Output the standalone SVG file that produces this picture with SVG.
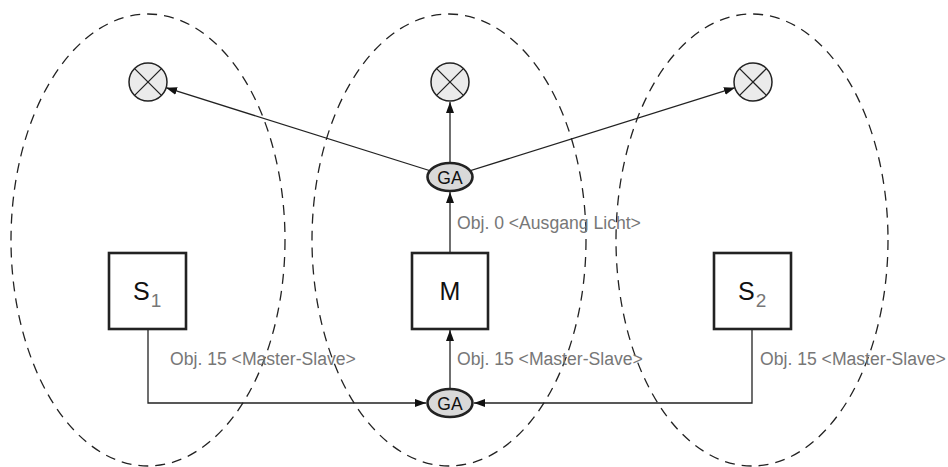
<svg xmlns="http://www.w3.org/2000/svg" width="948" height="467" viewBox="0 0 948 467">
<style>
.zone{fill:none;stroke:#222;stroke-width:1.3;stroke-dasharray:10 7}
.conn{fill:none;stroke:#222;stroke-width:1.3}
.box{fill:#fff;stroke:#222;stroke-width:2.6}
.lamp{fill:#ebebeb;stroke:#222;stroke-width:1.5}
.ga{fill:#d9d9d9;stroke:#222;stroke-width:2.6}
.lbl{font-family:"Liberation Sans",Arial,sans-serif;font-size:17.6px;fill:#777}
.big{font-family:"Liberation Sans",Arial,sans-serif;font-size:25px;fill:#111}
.sub{font-family:"Liberation Sans",Arial,sans-serif;font-size:19px;fill:#777}
.gat{font-family:"Liberation Sans",Arial,sans-serif;font-size:17.5px;fill:#111;text-anchor:middle}
</style>
<defs>
<marker id="arr" markerUnits="userSpaceOnUse" markerWidth="11" markerHeight="8" refX="11" refY="4" orient="auto">
<path d="M0,0 L11,4 L0,8 z" fill="#111"/>
</marker>
</defs>
<g id="zones">
<ellipse class="zone" cx="148" cy="240" rx="137" ry="226"/>
<ellipse class="zone" cx="449" cy="240" rx="137" ry="226"/>
<ellipse class="zone" cx="752" cy="240" rx="136" ry="226"/>
</g>
<g id="connectors">
<path class="conn" d="M450,177 L166,87.7" marker-end="url(#arr)"/>
<path class="conn" d="M450,177 L735,87.7" marker-end="url(#arr)"/>
<path class="conn" d="M450,163 V102" marker-end="url(#arr)"/>
<path class="conn" d="M450,253 V192" marker-end="url(#arr)"/>
<path class="conn" d="M450,389 V330" marker-end="url(#arr)"/>
<path class="conn" d="M148,329 V403 H426" marker-end="url(#arr)"/>
<path class="conn" d="M752,329 V403 H474" marker-end="url(#arr)"/>
</g>
<g id="lamp-left">
<circle class="lamp" cx="148" cy="82" r="19"/>
<path class="conn" d="M134.6,68.6 L161.4,95.4 M161.4,68.6 L134.6,95.4"/>
</g>
<g id="lamp-center">
<circle class="lamp" cx="450" cy="82" r="19"/>
<path class="conn" d="M436.6,68.6 L463.4,95.4 M463.4,68.6 L436.6,95.4"/>
</g>
<g id="lamp-right">
<circle class="lamp" cx="753" cy="82" r="19"/>
<path class="conn" d="M739.6,68.6 L766.4,95.4 M766.4,68.6 L739.6,95.4"/>
</g>
<g id="ga-top">
<ellipse class="ga" cx="450" cy="177" rx="22.5" ry="14"/>
<text class="gat" x="450" y="183.5">GA</text>
</g>
<g id="ga-bottom">
<ellipse class="ga" cx="450" cy="403" rx="22.5" ry="14"/>
<text class="gat" x="450" y="409.5">GA</text>
</g>
<g id="node-s1">
<rect class="box" x="109" y="253" width="77" height="76"/>
<text x="133" y="300"><tspan class="big">S</tspan><tspan class="sub" dx="1" dy="7">1</tspan></text>
</g>
<g id="node-m">
<rect class="box" x="412" y="253" width="76" height="76"/>
<text class="big" x="450" y="300" text-anchor="middle">M</text>
</g>
<g id="node-s2">
<rect class="box" x="714" y="253" width="77" height="76"/>
<text x="738" y="300"><tspan class="big">S</tspan><tspan class="sub" dx="1" dy="7">2</tspan></text>
</g>
<g id="labels">
<text class="lbl" x="457" y="229">Obj. 0 &lt;Ausgang Licht&gt;</text>
<text class="lbl" x="170" y="365">Obj. 15 &lt;Master-Slave&gt;</text>
<text class="lbl" x="457" y="365">Obj. 15 &lt;Master-Slave&gt;</text>
<text class="lbl" x="760" y="365">Obj. 15 &lt;Master-Slave&gt;</text>
</g>
</svg>
